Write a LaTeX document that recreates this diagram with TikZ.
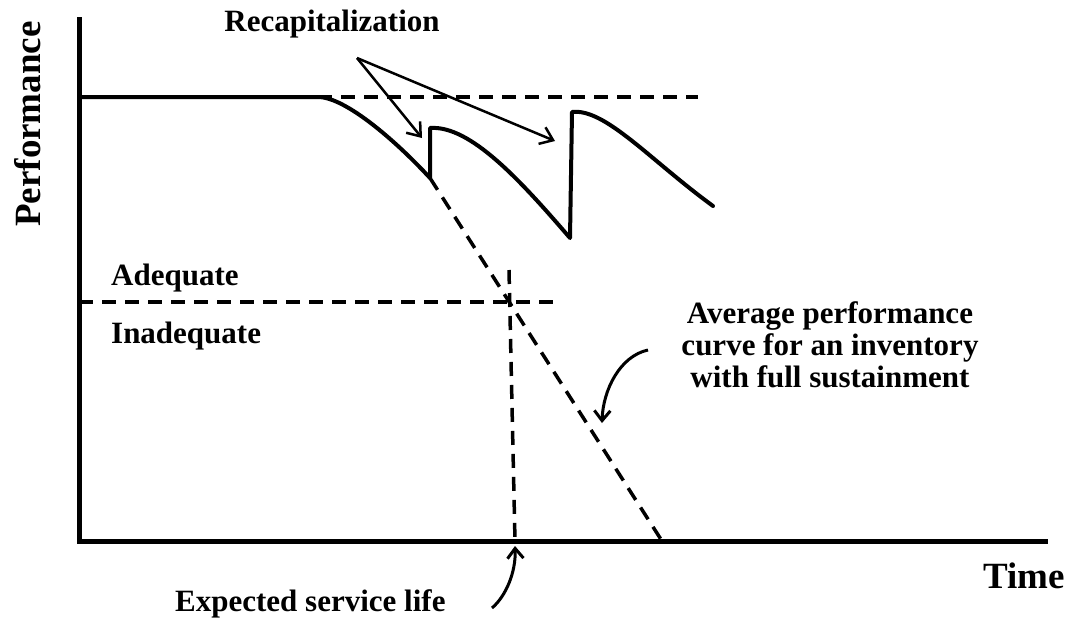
\documentclass[tikz,border=0pt]{standalone}
\usepackage{fontspec}
\setmainfont{Liberation Serif}
\usetikzlibrary{arrows.meta}
\begin{document}
\begin{tikzpicture}[x=1pt,y=-1pt,
  lbl/.style={font=\fontsize{31}{32}\selectfont\bfseries, inner sep=0pt},
  big/.style={font=\fontsize{37}{40}\selectfont\bfseries, inner sep=0pt},
  axisline/.style={line width=5pt},
  perf/.style={line width=4pt, line join=round, line cap=round},
  dsh/.style={line width=3.5pt, dash pattern=on 14pt off 9pt},
  recap/.style={line width=2.5pt, -{Straight Barb[length=12pt,width=18pt,line width=2.5pt]}},
  callout/.style={line width=3pt, -{Straight Barb[length=10pt,width=16pt,line width=3pt]}}
]
\useasboundingbox (0,0) rectangle (1068,625);

% axes
\coordinate (ytop) at (79,17);
\coordinate (O) at (79,541);
\coordinate (xend) at (1048,541);
\draw[axisline] (ytop) -- (O) -- (xend);

% performance curve
\coordinate (p0) at (79,97);
\coordinate (p1) at (318,97);
\coordinate (d1) at (430,178);
\coordinate (u1) at (430,128);
\coordinate (d2) at (570,238);
\coordinate (u2) at (572,112);
\coordinate (pend) at (713,206);
\draw[perf] (p0) -- (p1) .. controls (345,97) and (395,140) .. (d1) -- (u1)
  .. controls (470,125) and (520,180) .. (d2) -- (u2)
  .. controls (605,108) and (650,160) .. (pend);

% dashed reference lines
\coordinate (hend) at (698,97);
\draw[dsh] (p1) -- (hend);
\coordinate (avgend) at (662,541);
\draw[dsh] (d1) -- (avgend);
\coordinate (a0) at (79,302);
\coordinate (a1) at (553,302);
\draw[dsh] (a0) -- (a1);
\coordinate (s0) at (509,270);
\coordinate (s1) at (515,541);
\draw[dsh] (s0) -- (s1);

% recapitalization arrows
\coordinate (apex) at (357,58);
\coordinate (r1) at (422,138);
\coordinate (r2) at (555,141);
\draw[recap] (apex) -- (r1);
\draw[recap] (apex) -- (r2);

% labels
\node[lbl, anchor=base] (recapl) at (332,31) {Recapitalization};
\node[big, rotate=90, anchor=center] (perfl) at (28,124) {Performance};
\node[lbl, anchor=base west] (adeq) at (111,285) {Adequate};
\node[lbl, anchor=base west] (inadeq) at (111,343) {Inadequate};
\node[big, anchor=base west] (time) at (983,588) {Time};
\node[lbl, anchor=base west] (esl) at (175,611) {Expected service life};
\node[lbl, align=center, anchor=center] (avg) at (830,345)
  {Average performance\\curve for an inventory\\with full sustainment};

% callout arrows
\coordinate (c1s) at (648,350);
\coordinate (c1e) at (602,423);
\draw[callout] (c1s) .. controls (620,356) and (603,390) .. (c1e);
\coordinate (c2s) at (492,608);
\coordinate (c2e) at (515,546);
\draw[callout] (c2s) .. controls (506,596) and (516,572) .. (c2e);
\end{tikzpicture}
\end{document}
